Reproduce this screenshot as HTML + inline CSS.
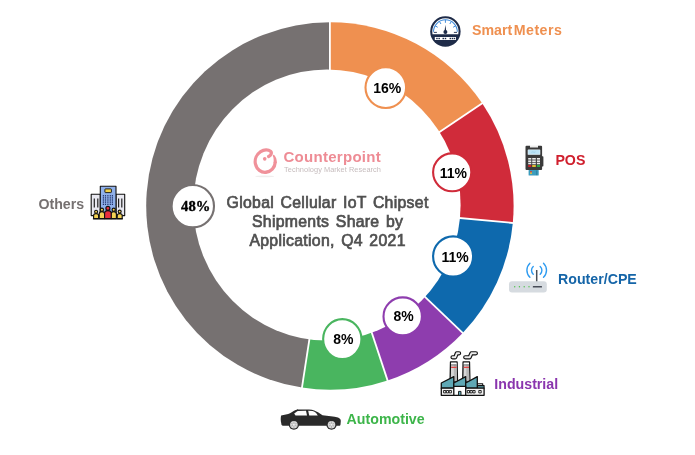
<!DOCTYPE html>
<html lang="en"><head><meta charset="utf-8"><title>Global Cellular IoT Chipset Shipments Share by Application, Q4 2021</title>
<style>
html,body{margin:0;padding:0;background:#fff;}
body{width:695px;height:455px;overflow:hidden;}
svg{display:block;}
text{font-family:"Liberation Sans",Arial,sans-serif;}
.pct{font-size:14px;font-weight:bold;fill:#000;}
.serif{font-family:"Liberation Serif","Times New Roman",serif;font-size:14.6px;stroke:#000;stroke-width:0.4px;}
.lab{font-size:14.2px;font-weight:bold;}
.title{font-size:15.8px;fill:#505050;stroke:#505050;stroke-width:0.7px;letter-spacing:0.3px;word-spacing:1.8px;}
</style></head><body>
<svg width="695" height="455" viewBox="0 0 695 455">
<rect width="695" height="455" fill="#fff"/>
<path d="M329.9 206.0 L329.90 22.30 A183.7 183.7 0 0 1 482.19 103.28 Z" fill="#EF9050"/>
<path d="M329.9 206.0 L482.19 103.28 A183.7 183.7 0 0 1 512.81 222.97 Z" fill="#D02B3A"/>
<path d="M329.9 206.0 L512.81 222.97 A183.7 183.7 0 0 1 462.71 332.92 Z" fill="#0E69AD"/>
<path d="M329.9 206.0 L462.71 332.92 A183.7 183.7 0 0 1 387.58 380.41 Z" fill="#8E3DAE"/>
<path d="M329.9 206.0 L387.58 380.41 A183.7 183.7 0 0 1 301.95 387.56 Z" fill="#49B55F"/>
<path d="M329.9 206.0 L301.95 387.56 A183.7 183.7 0 0 1 329.90 22.30 Z" fill="#767171"/>
<line x1="329.90" y1="106.00" x2="329.90" y2="21.30" stroke="#fff" stroke-width="1.8"/>
<line x1="412.80" y1="150.08" x2="483.02" y2="102.72" stroke="#fff" stroke-width="1.8"/>
<line x1="429.47" y1="215.24" x2="513.81" y2="223.06" stroke="#fff" stroke-width="1.8"/>
<line x1="402.20" y1="275.09" x2="463.43" y2="333.61" stroke="#fff" stroke-width="1.8"/>
<line x1="361.30" y1="300.94" x2="387.89" y2="381.36" stroke="#fff" stroke-width="1.8"/>
<line x1="314.69" y1="304.84" x2="301.80" y2="388.55" stroke="#fff" stroke-width="1.8"/>

<ellipse cx="327.0" cy="205.0" rx="133.6" ry="135.5" fill="#fff"/>
<ellipse cx="385.8" cy="87.6" rx="20.3" ry="20.4" fill="#fff" stroke="#EF9050" stroke-width="2.1"/>
<text x="387.3" y="92.6" class="pct" text-anchor="middle">16%</text>
<ellipse cx="452.2" cy="172.3" rx="19.1" ry="18.9" fill="#fff" stroke="#D02B3A" stroke-width="2.1"/>
<text x="453.3" y="177.8" class="pct" text-anchor="middle">11%</text>
<ellipse cx="453.1" cy="256.45" rx="20.0" ry="20.1" fill="#fff" stroke="#0E69AD" stroke-width="2.1"/>
<text x="455.0" y="262.3" class="pct" text-anchor="middle">11%</text>
<ellipse cx="402.7" cy="316.4" rx="19.2" ry="19.0" fill="#fff" stroke="#8E3DAE" stroke-width="2.1"/>
<text x="403.65" y="321.2" class="pct" text-anchor="middle">8%</text>
<ellipse cx="342.3" cy="339.05" rx="19.15" ry="19.95" fill="#fff" stroke="#49B55F" stroke-width="2.1"/>
<text x="343.3" y="343.5" class="pct" text-anchor="middle">8%</text>
<ellipse cx="192.8" cy="206.2" rx="21.2" ry="21.2" fill="#fff" stroke="#767171" stroke-width="2.1"/>
<text x="195.7" y="210.9" class="pct serif" text-anchor="middle">48%</text>

<text x="472.0" y="35.4" class="lab" fill="#EF9050" text-anchor="start">Smart <tspan x="513.7" style="letter-spacing:0.5px">Meters</tspan></text>
<text x="555.4" y="164.8" class="lab" fill="#D0202E" text-anchor="start">POS</text>
<text x="558.0" y="284.1" class="lab" fill="#1565A8" text-anchor="start">Router/CPE</text>
<text x="494.3" y="389.0" class="lab" fill="#8A35AE" text-anchor="start">Industrial</text>
<text x="346.6" y="423.6" class="lab" fill="#3DB54A" text-anchor="start">Automotive</text>
<text x="38.4" y="208.6" class="lab" fill="#767171" text-anchor="start">Others</text>

<g class="title" text-anchor="middle">
<text x="327.6" y="207.7">Global Cellular IoT Chipset</text>
<text x="327.6" y="226.7">Shipments Share by</text>
<text x="327.6" y="245.8">Application, Q4 2021</text>
</g>
<!-- Counterpoint logo -->
<g id="logo">
<ellipse cx="264.7" cy="176.4" rx="9.5" ry="0.8" fill="#f0eded"/>
<g transform="translate(265.3 161) scale(0.95 0.99) translate(-265.3 -161)">
<path d="M268.8 156.4 C271.6 155 272.5 152.6 270.8 151.1 C268.5 149.2 264 149.2 260.4 151.5 C256 154.3 253.9 159.5 254.9 164 C256.2 169.6 261 172.9 266 172.4 C271.3 171.8 275.4 167.6 275.7 162.6" fill="none" stroke="#F0919A" stroke-width="3.4" stroke-linecap="round"/>
<path d="M277.4 163 C277.6 159.8 276.7 157 274.7 154.9 Q273.5 154.5 273.1 155.7 C274.2 157.8 274.3 160.2 274 163 Z" fill="#F0919A"/>
<circle cx="264.7" cy="158.8" r="1.9" fill="#F0919A"/>
</g>
<text transform="translate(283.4 162.3) scale(1.06 1)" x="0" y="0" style="font-size:14.2px;font-weight:bold;fill:#EE8C95;letter-spacing:0.25px">Counterpoint</text>
<text x="284" y="172.4" style="font-size:7.4px;fill:#C6BCBD;letter-spacing:0.05px">Technology Market Research</text>
</g>

<!-- Smart meter icon -->
<g id="meter">
<circle cx="445.4" cy="31.5" r="15.2" fill="#1E2B48"/>
<path d="M432.48 34.2 A13.2 13.2 0 1 1 458.32 34.2 Z" fill="#fff"/>
<path d="M433.50 31.7 A11.9 11.9 0 0 1 457.30 31.7" fill="none" stroke="#3F8BDA" stroke-width="1.1"/>
<g stroke="#3F8BDA" stroke-width="1">
<line x1="435.09" y1="25.75" x2="437.69" y2="27.25"/>
<line x1="439.45" y1="21.39" x2="440.95" y2="23.99"/>
<line x1="445.40" y1="19.80" x2="445.40" y2="22.80"/>
<line x1="451.35" y1="21.39" x2="449.85" y2="23.99"/>
<line x1="455.71" y1="25.75" x2="453.11" y2="27.25"/>
</g>
<line x1="433.8" y1="32.4" x2="436.9" y2="32.4" stroke="#1E2B48" stroke-width="0.9"/>
<line x1="453.9" y1="32.4" x2="457" y2="32.4" stroke="#1E2B48" stroke-width="0.9"/>
<path d="M445.4 24.8 L446.3 31.5 L444.5 31.5 Z" fill="#1E2B48"/>
<circle cx="445.4" cy="32" r="2" fill="#1E2B48"/>
<rect x="434.8" y="37" width="21.2" height="3" fill="#fff"/>
<g fill="#1E2B48">
<rect x="436.2" y="37.8" width="1.5" height="1.4"/><rect x="438.4" y="37.8" width="1.5" height="1.4"/>
<rect x="442.5" y="37.8" width="1.5" height="1.4"/><rect x="444.7" y="37.8" width="1.5" height="1.4"/>
<rect x="449.6" y="37.8" width="1.5" height="1.4"/><rect x="451.8" y="37.8" width="1.5" height="1.4"/><rect x="453.9" y="37.8" width="1.3" height="1.4"/>
</g>
</g>

<!-- POS icon -->
<g id="pos">
<rect x="530" y="145.6" width="8" height="3.4" fill="#eeeeee"/>
<path d="M526.5 145.7 H530 V147.6 H538 V145.7 H541.1 Q542.1 145.7 542.1 146.7 V156.3 H542.8 Q543.4 156.3 543.4 156.9 V165.8 Q543.4 166.4 542.8 166.4 H542.1 V168.9 Q542.1 169.9 541.1 169.9 H526.5 Q525.5 169.9 525.5 168.9 V146.7 Q525.5 145.7 526.5 145.7 Z" fill="#3A3A3A"/>
<rect x="527.7" y="149.4" width="12.6" height="5.4" rx="0.6" fill="#E8F5FB"/>
<rect x="528.3" y="150" width="11.4" height="4.2" fill="#BDE3F5"/>
<path d="M531.5 152.6 l0.8 -1 l0.8 1 l0.8 -1 l0.8 1 l0.8 -1" fill="none" stroke="#8CC4E0" stroke-width="0.5"/>
<g fill="#ECECEC">
<rect x="528.2" y="158" width="3.1" height="1.6"/><rect x="532.2" y="158" width="3.6" height="1.6"/><rect x="536.9" y="158" width="3.1" height="1.6"/>
<rect x="528.2" y="160.4" width="3.1" height="1.6"/><rect x="532.2" y="160.4" width="3.6" height="1.6"/><rect x="536.9" y="160.4" width="3.1" height="1.6"/>
<rect x="528.2" y="162.7" width="3.1" height="1.6"/><rect x="532.2" y="162.7" width="3.6" height="1.6"/><rect x="536.9" y="162.7" width="3.1" height="1.6"/>
</g>
<rect x="528.2" y="165.1" width="3.1" height="1.8" fill="#D9202A"/>
<rect x="532.2" y="165.1" width="3.6" height="1.8" fill="#F2CB2E"/>
<rect x="536.9" y="165.1" width="3.1" height="1.8" fill="#2DB34A"/>
<rect x="528.6" y="169.9" width="10.1" height="5.7" rx="0.5" fill="#3C9CBD"/>
<rect x="530" y="171.2" width="2" height="1.3" fill="#E03A3A"/>
<rect x="530" y="172.5" width="2" height="1.3" fill="#F2C230"/>
<rect x="536" y="170.5" width="1.2" height="4.6" fill="#2F86A6"/>
</g>

<!-- Router icon -->
<g id="router">
<g fill="none" stroke="#2E9BF0" stroke-width="1.4" stroke-linecap="round">
<path d="M533.22 266.44 A5.2 5.2 0 0 0 533.22 274.16"/>
<path d="M540.18 266.44 A5.2 5.2 0 0 1 540.18 274.16"/>
<path d="M529.89 263.25 A9.8 9.8 0 0 0 529.89 277.35"/>
<path d="M543.51 263.25 A9.8 9.8 0 0 1 543.51 277.35"/>
</g>
<line x1="536.7" y1="270" x2="536.7" y2="282" stroke="#4A4F57" stroke-width="1.5"/>
<rect x="509" y="281.3" width="37.8" height="11.2" rx="3" fill="#D6DBE0"/>
<g fill="#4CC24A">
<circle cx="514.7" cy="286.8" r="0.7"/><circle cx="519.4" cy="286.8" r="0.7"/><circle cx="524.2" cy="286.8" r="0.7"/><circle cx="529" cy="286.8" r="0.7"/>
</g>
<rect x="532.8" y="286" width="9.2" height="1.6" rx="0.4" fill="#474C57"/>
</g>

<!-- Factory icon -->
<g id="factory" stroke="#111" stroke-width="1.3" stroke-linejoin="round">
<!-- smoke -->
<g fill="none" stroke-linecap="round" stroke-linejoin="round">
<path d="M452.5 357.3 H455.2 L456.8 353.3 H459.1" stroke="#111" stroke-width="4.2"/>
<path d="M465.2 357.3 H469.6 L471.4 353.3 H475.9" stroke="#111" stroke-width="4.2"/>
<path d="M452.5 357.3 H455.2 L456.8 353.3 H459.1" stroke="#EDEDED" stroke-width="1.9"/>
<path d="M465.2 357.3 H469.6 L471.4 353.3 H475.9" stroke="#EDEDED" stroke-width="1.9"/>
</g>
<!-- chimneys -->
<path d="M450.5 362 H457.1 L457.5 381 H450.1 Z" fill="#D6D6D6"/>
<path d="M453.8 364 H456.6 L457 381 H453.8 Z" fill="#B8B8B8" stroke="none"/>
<rect x="451.1" y="362.6" width="5.5" height="1.8" fill="#fff" stroke="none"/>
<rect x="451.1" y="364.4" width="5.5" height="1.1" fill="#777" stroke="none"/>
<rect x="451.1" y="366.7" width="5.5" height="1.3" fill="#E24848" stroke="none"/>
<path d="M463.1 362 H469.5 L469.9 381 H462.7 Z" fill="#D6D6D6"/>
<path d="M466.3 364 H469 L469.4 381 H466.3 Z" fill="#B8B8B8" stroke="none"/>
<rect x="463.7" y="362.6" width="5.3" height="1.8" fill="#fff" stroke="none"/>
<rect x="463.7" y="364.4" width="5.3" height="1.1" fill="#777" stroke="none"/>
<rect x="463.7" y="366.7" width="5.3" height="1.3" fill="#E24848" stroke="none"/>
<!-- annex -->
<rect x="477.3" y="383.8" width="5.4" height="1.8" fill="#eee" stroke-width="1.1"/>
<rect x="477.3" y="385.6" width="6.8" height="2.6" fill="#5FA8B5" stroke-width="1.1"/>
<!-- roofs -->
<path d="M441.3 388.2 V383 L453.8 376.6 V388.2 Z" fill="#5FA8B5"/>
<path d="M453.8 388.2 V383 L465.7 376.6 V388.2 Z" fill="#5FA8B5"/>
<path d="M465.7 388.2 V383 L477.3 376.6 V388.2 Z" fill="#5FA8B5"/>
<!-- base -->
<rect x="441.3" y="388.2" width="42.8" height="7.1" fill="#F2F2F2"/>
<rect x="453.8" y="386.4" width="11.9" height="8.9" fill="#fff"/>
<rect x="458.5" y="391.4" width="2.5" height="3.9" fill="#5FA8B5" stroke-width="0.9"/>
<g fill="#fff" stroke-width="0.9">
<rect x="443.6" y="390.5" width="2.2" height="2.4"/><rect x="446.4" y="390.5" width="2.2" height="2.4"/><rect x="449.2" y="390.5" width="2.2" height="2.4"/>
<rect x="467.3" y="390.5" width="2.2" height="2.4"/><rect x="470.1" y="390.5" width="2.2" height="2.4"/><rect x="472.9" y="390.5" width="2.2" height="2.4"/>
<rect x="478.8" y="390.5" width="2.4" height="2.4"/>
</g>
</g>

<!-- Car icon -->
<g id="car">
<path d="M281 416 L281.2 415.4 C284 414.9 288 414.2 290 413.3 C293 411.6 295.3 410 297.3 409.6 L297.6 409 L298.2 409.5 L309 409.4 C313 409.6 316 411 318 412.2 L322.5 415.2 C328 415.6 334 416.5 338 417.6 C340 418.4 340.8 419.5 340.8 421 L340.5 424.5 C340.4 425.3 340 425.7 339 425.8 L283 425.8 C281.8 425.3 281.2 424.8 281.3 423.5 C280.6 421 280.6 418 281 416 Z" fill="#2A2A2A"/>
<path d="M294.2 413.6 C295.6 412.3 297 411.2 298 411 L306 410.8 L307 415.6 L295.5 415.4 Z" fill="#fff"/>
<path d="M308.2 410.8 L312.5 411 C314.5 411.3 316 412.5 317.8 415.5 L309.2 415.6 Z" fill="#fff"/>
<circle cx="293.9" cy="424.7" r="5.1" fill="#2A2A2A"/>
<circle cx="331.5" cy="424.7" r="5.1" fill="#2A2A2A"/>
<circle cx="293.9" cy="424.7" r="3.8" fill="#D9D9D9"/>
<circle cx="331.5" cy="424.7" r="3.8" fill="#D9D9D9"/>
<g stroke="#9a9a9a" stroke-width="0.6">
<line x1="293.9" y1="421.2" x2="293.9" y2="428.2"/><line x1="290.9" y1="423" x2="296.9" y2="426.4"/><line x1="290.9" y1="426.4" x2="296.9" y2="423"/>
<line x1="331.5" y1="421.2" x2="331.5" y2="428.2"/><line x1="328.5" y1="423" x2="334.5" y2="426.4"/><line x1="328.5" y1="426.4" x2="334.5" y2="423"/>
</g>
<circle cx="293.9" cy="424.7" r="1" fill="#f2f2f2"/>
<circle cx="331.5" cy="424.7" r="1" fill="#f2f2f2"/>
</g>

<!-- Others building icon -->
<g id="bldg" stroke="#111" stroke-width="1.1" stroke-linejoin="round">
<rect x="91.2" y="194.2" width="9.1" height="21.4" fill="#E8E8F0"/>
<rect x="116" y="194.2" width="8.7" height="21.4" fill="#E8E8F0"/>
<g stroke-width="1.2" stroke="#222">
<line x1="94.3" y1="198.6" x2="94.3" y2="207.6"/><line x1="97.8" y1="198.6" x2="97.8" y2="207.6"/>
<line x1="118.6" y1="198.6" x2="118.6" y2="207.6"/><line x1="121.8" y1="198.6" x2="121.8" y2="207.6"/>
</g>
<rect x="100.3" y="186.3" width="15.7" height="27" fill="#8FB0EA"/>
<rect x="104.9" y="188.9" width="6.5" height="3.7" rx="0.6" fill="#F2D24B" stroke-width="0.9"/>
<g stroke="none" fill="#14235A">
<rect x="102.80" y="195.20" width="1.2" height="1.2"/><rect x="104.90" y="195.20" width="1.2" height="1.2"/><rect x="107.30" y="195.20" width="1.2" height="1.2"/><rect x="109.70" y="195.20" width="1.2" height="1.2"/><rect x="111.80" y="195.20" width="1.2" height="1.2"/>
<rect x="102.80" y="197.30" width="1.2" height="1.2"/><rect x="104.90" y="197.30" width="1.2" height="1.2"/><rect x="107.30" y="197.30" width="1.2" height="1.2"/><rect x="109.70" y="197.30" width="1.2" height="1.2"/><rect x="111.80" y="197.30" width="1.2" height="1.2"/>
<rect x="102.80" y="199.40" width="1.2" height="1.2"/><rect x="104.90" y="199.40" width="1.2" height="1.2"/><rect x="107.30" y="199.40" width="1.2" height="1.2"/><rect x="109.70" y="199.40" width="1.2" height="1.2"/><rect x="111.80" y="199.40" width="1.2" height="1.2"/>
<rect x="102.80" y="201.50" width="1.2" height="1.2"/><rect x="104.90" y="201.50" width="1.2" height="1.2"/><rect x="107.30" y="201.50" width="1.2" height="1.2"/><rect x="109.70" y="201.50" width="1.2" height="1.2"/><rect x="111.80" y="201.50" width="1.2" height="1.2"/>
<rect x="102.80" y="203.70" width="1.2" height="1.2"/><rect x="104.90" y="203.70" width="1.2" height="1.2"/><rect x="107.30" y="203.70" width="1.2" height="1.2"/><rect x="109.70" y="203.70" width="1.2" height="1.2"/><rect x="111.80" y="203.70" width="1.2" height="1.2"/>
</g>
<!-- people -->
<g fill="#F4D354" stroke-width="1.15">
<path d="M93.6 218.6 V215.6 Q93.6 213.6 96.1 213.6 Q98.6 213.6 98.6 215.6 V218.6 Z"/>
<circle cx="96.1" cy="211.7" r="1.5"/>
<path d="M117.2 218.6 V215.6 Q117.2 213.6 119.7 213.6 Q122.2 213.6 122.2 215.6 V218.6 Z"/>
<circle cx="119.7" cy="211.6" r="1.5"/>
<path d="M99.2 218.6 V214 Q99.2 211.6 101.9 211.6 Q104.6 211.6 104.6 214 V218.6 Z"/>
<circle cx="101.9" cy="209.7" r="1.6"/>
<path d="M111 218.6 V214 Q111 211.6 113.7 211.6 Q116.4 211.6 116.4 214 V218.6 Z"/>
<circle cx="113.7" cy="209.7" r="1.6"/>
</g>
<g fill="#E8303F" stroke-width="1.15">
<path d="M104.6 218.6 V213.4 Q104.6 210.6 107.9 210.6 Q111.2 210.6 111.2 213.4 V218.6 Z"/>
<circle cx="107.9" cy="208.3" r="2"/>
</g>
<line x1="92.9" y1="218.8" x2="122.9" y2="218.8" stroke-width="1.2"/>
</g>

</svg>
</body></html>
